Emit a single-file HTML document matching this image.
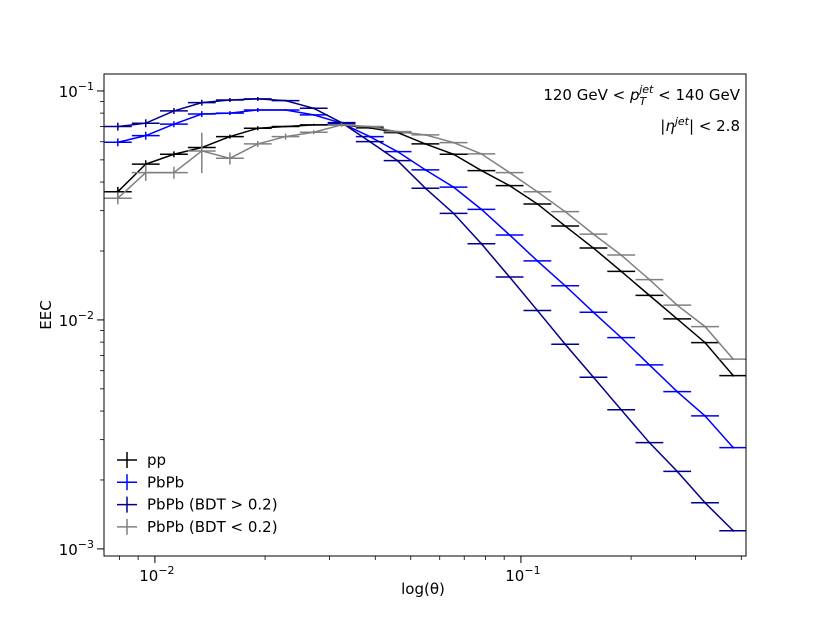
<!DOCTYPE html>
<html><head><meta charset="utf-8"><style>
body{margin:0;background:#fff}
svg{display:block;font-family:"DejaVu Sans","Liberation Sans",sans-serif}
</style></head><body>
<svg id="chart" width="830" height="623" viewBox="0 0 830 623"></svg>
<script>
const theta=[0.00792,0.00944,0.01127,0.01343,0.01603,0.0191,0.02275,0.02716,0.03236,0.03864,0.04603,0.05483,0.06546,0.07798,0.09311,0.1109,0.1321,0.1578,0.1879,0.2244,0.2673,0.3184,0.3802];
const ppVals=[0.0363,0.0479,0.0529,0.0566,0.0632,0.0687,0.0699,0.0711,0.0711,0.0690,0.0658,0.0587,0.0529,0.0449,0.0386,0.0321,0.0257,0.0206,0.0163,0.0128,0.0101,0.00796,0.00571];
const pbpbVals=[0.0597,0.0638,0.0716,0.0793,0.0800,0.0826,0.0826,0.0786,0.0723,0.0632,0.0543,0.0452,0.0380,0.0304,0.0235,0.0181,0.0141,0.0108,0.00837,0.00636,0.00486,0.00381,0.00277];
const bdtHiVals=[0.0699,0.0723,0.0818,0.0889,0.0913,0.0923,0.0907,0.0840,0.0727,0.0601,0.0496,0.0376,0.0292,0.0215,0.0154,0.0110,0.00783,0.00562,0.00405,0.00291,0.00218,0.00159,0.00120];
const bdtLoVals=[0.0340,0.0440,0.0440,0.0547,0.0508,0.0587,0.0632,0.0660,0.0711,0.0699,0.0664,0.0643,0.0595,0.0531,0.0440,0.0363,0.0297,0.0237,0.0192,0.0150,0.0116,0.00935,0.00674];
const ppErr=[0.05,0.04,0.03,0.03,0.02,0.02,0.01,0.01,0.01,0.01,0.01,0.01,0.01,0.01,0.01,0.01,0.01,0.01,0.01,0.01,0.01,0.01,0.01];
const pbpbErr=[0.04,0.04,0.03,0.03,0.02,0.02,0.01,0.01,0.01,0.01,0.01,0.01,0.01,0.01,0.01,0.01,0.01,0.01,0.01,0.01,0.01,0.01,0.01];
const bdtHiErr=[0.04,0.04,0.03,0.03,0.02,0.02,0.01,0.01,0.01,0.01,0.01,0.01,0.01,0.01,0.01,0.01,0.01,0.01,0.01,0.01,0.01,0.01,0.01];
const bdtLoErr=[0.06,0.08,0.06,0.2,0.06,0.03,0.03,0.02,0.02,0.01,0.01,0.01,0.01,0.01,0.01,0.01,0.01,0.01,0.01,0.01,0.01,0.01,0.01];
const yTickLabels=["10","10","10"];
const yTickExp=["−1","−2","−3"];
const yTickVals=[0.1,0.01,0.001];
const xTickVals=[0.01,0.1];
const xTickExp=["−2","−1"];

const L=104,R=746,T=74,B=556;
const xmin=Math.log10(0.00726),xmax=Math.log10(0.412);
const ymin=-3.031,ymax=-0.926;
const X=v=>L+(Math.log10(v)-xmin)/(xmax-xmin)*(R-L);
const Y=v=>B-(Math.log10(v)-ymin)/(ymax-ymin)*(B-T);
const NS="http://www.w3.org/2000/svg";
const svg=document.getElementById('chart');
function mk(tag,attrs,parent){const e=document.createElementNS(NS,tag);for(const k in attrs)e.setAttribute(k,attrs[k]);(parent||svg).appendChild(e);return e;}

const defs=mk('clipPath',{id:'clip'});mk('rect',{x:L,y:T,width:R-L,height:B-T},defs);

const tg=mk('g',{});


for(let e=-3;e<=-1;e++){for(let m=1;m<10;m++){const v=m*Math.pow(10,e);const lv=Math.log10(v);
 if(lv>=ymin&&lv<=ymax){const y=Y(v);mk('line',{x1:L-(m==1?7:4),x2:L,y1:y,y2:y,stroke:'#000','stroke-width':m==1?1:0.8},tg);}
 if(lv>=xmin&&lv<=xmax){const x=X(v);mk('line',{x1:x,x2:x,y1:B,y2:B+(m==1?7:4),stroke:'#000','stroke-width':m==1?1:0.8},tg);}}}
yTickVals.forEach((v,i)=>{const t=mk('text',{x:L-10,y:Y(v)+6,'text-anchor':'end','font-size':15});
 
 t.textContent=yTickLabels[i];const s=mk('tspan',{dy:-7,'font-size':11},t);s.textContent=yTickExp[i];});
xTickVals.forEach((v,i)=>{const t=mk('text',{x:X(v)+2,y:B+25,'text-anchor':'middle','font-size':15});
 
 t.textContent='10';const s=mk('tspan',{dy:-7,'font-size':11},t);s.textContent=xTickExp[i];});

const series=[[ppVals,ppErr,'#000000','pp'],[pbpbVals,pbpbErr,'#0000ff','pbpb'],[bdtHiVals,bdtHiErr,'#00008b','pbpb-bdt-high'],[bdtLoVals,bdtLoErr,'#808080','pbpb-bdt-low']];
const hw=0.038;
series.forEach(([vals,err,col,name])=>{
 const g=mk('g',{'clip-path':'url(#clip)'});
 
 
 mk('polyline',{points:vals.map((v,i)=>X(theta[i])+','+Y(v)).join(' '),fill:'none',stroke:col,'stroke-width':1.5},g);
 vals.forEach((v,i)=>{const x1=X(theta[i]*Math.pow(10,-hw)),x2=X(theta[i]*Math.pow(10,hw)),y=Y(v);
  const eb=mk('path',{d:`M${x1},${y}H${x2}M${X(theta[i])},${Y(v*(1+err[i]))}V${Y(v*(1-err[i]))}`,stroke:col,'stroke-width':1.5,fill:'none'},g);
  
  });
});

mk('rect',{x:L,y:T,width:R-L,height:B-T,fill:'none',stroke:'#000','stroke-width':1});

let t=mk('text',{x:423,y:594,'text-anchor':'middle','font-size':15});t.textContent='log(θ)';

t=mk('text',{x:51,y:315,'text-anchor':'middle','font-size':15,transform:'rotate(-90 51 315)'});t.textContent='EEC';


t=mk('text',{x:740,y:100,'text-anchor':'end','font-size':15});

t.innerHTML='120 GeV &lt; <tspan font-style="italic">p</tspan><tspan font-size="11" dy="5" font-style="italic">T</tspan><tspan font-size="11" dy="-12" dx="-7" font-style="italic">jet</tspan><tspan dy="7"> &lt; 140 GeV</tspan>';
t=mk('text',{x:740,y:131,'text-anchor':'end','font-size':15});

t.innerHTML='|<tspan font-style="italic">η</tspan><tspan font-size="11" dy="-6" font-style="italic">jet</tspan><tspan dy="6">| &lt; 2.8</tspan>';

const names=['pp','PbPb','PbPb (BDT > 0.2)','PbPb (BDT < 0.2)'];
series.forEach(([v,e,col],i)=>{const y=460+i*22.3;
 const g=mk('g',{});
 mk('path',{d:`M117,${y}H137M127,${y-8}V${y+8}`,stroke:col,'stroke-width':1.5},g);
 const tx=mk('text',{x:147,y:y+5,'font-size':15},g);tx.textContent=names[i];});
</script>
</body></html>
